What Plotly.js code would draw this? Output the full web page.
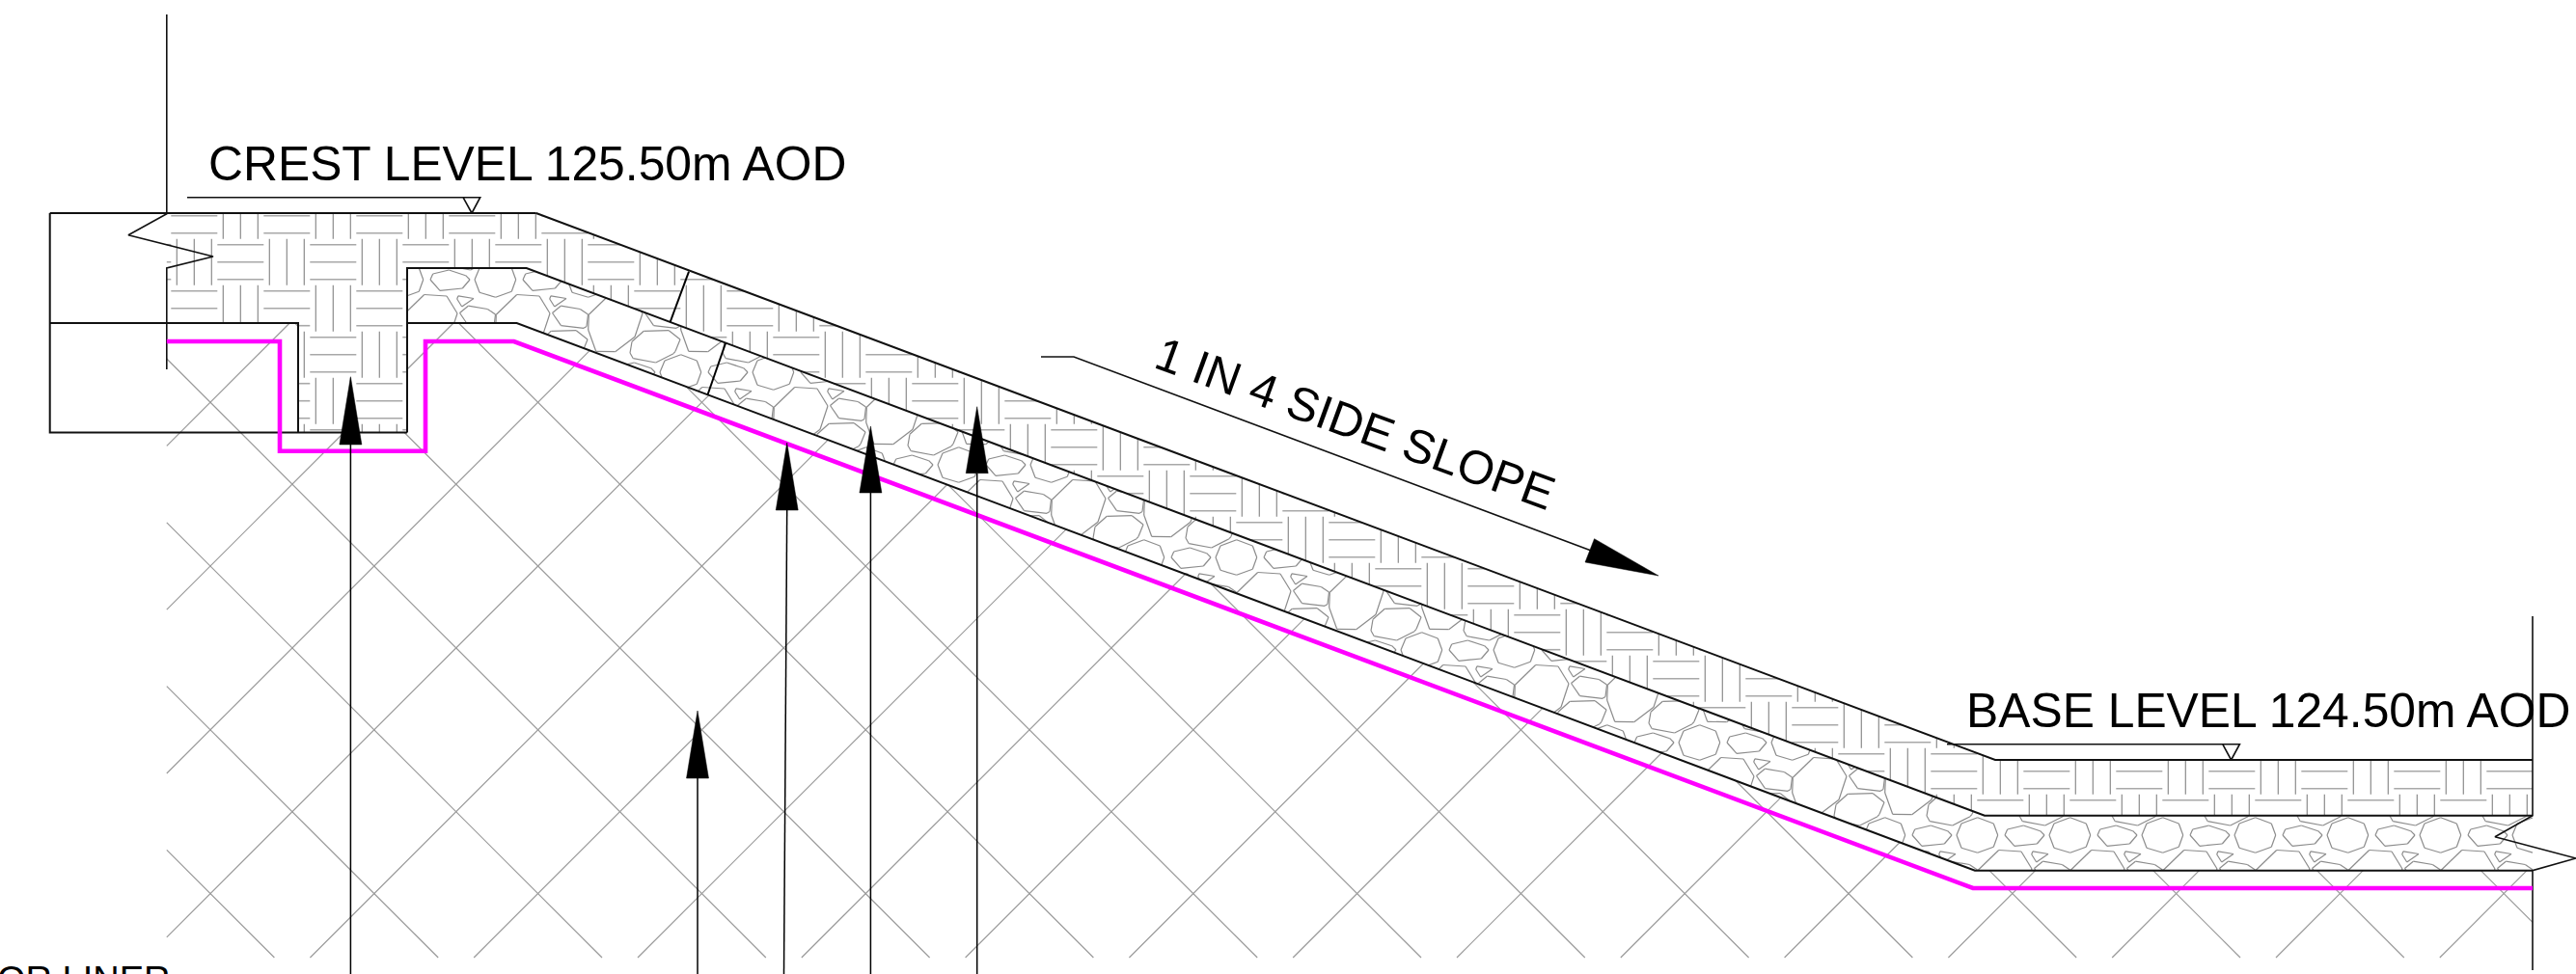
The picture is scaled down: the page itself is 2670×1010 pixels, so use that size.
<!DOCTYPE html>
<html>
<head>
<meta charset="utf-8">
<script src="https://cdn.plot.ly/plotly-3.0.1.min.js"></script>
<style>html,body{margin:0;padding:0;background:#fff;overflow:hidden}#chart{width:2670px;height:1010px}</style>
</head>
<body>
<div id="chart"></div>
<script>
// ---- cross-section outlines (x, y in drawing units) ----
const capOutlineX = [555.7, 2068, 2625];
const capOutlineY = [221, 788, 788];
const capTopX = [51.7, 555.7];
const capTopY = [221, 221];
const stoneTopX = [422, 422, 545.7, 2057, 2625];
const stoneTopY = [448.5, 278, 278, 845.7, 845.7];
const stoneBaseX = [422, 535.6, 2047, 2625];
const stoneBaseY = [335, 335, 902.7, 902.7];
const keyX = [51.7, 51.7, 422];
const keyY = [221, 448.5, 448.5];
const keyInnerX = [51.7, 309, 309];
const keyInnerY = [335, 335, 448.5];
const linerX = [172.8, 290, 290, 441, 441, 532.7, 2045, 2625];
const linerY = [354, 354, 467.7, 467.7, 354, 354, 921, 921];
const leftCutX = [172.8, 172.8, 133, 221, 172.8, 172.8];
const leftCutY = [15, 221.7, 243.7, 266, 278, 383];
const rightCutX = [2625, 2625, 2586, 2670, 2625, 2625];
const rightCutY = [639, 845.7, 867.7, 890, 902.7, 1006];
const jointAX = [714, 694.6];
const jointAY = [281.7, 334];
const jointBX = [752, 733.6];
const jointBY = [356, 409];

// level markers
const crestMarkX = [194, 497.7, 489, 480];
const crestMarkY = [204.7, 204.7, 221, 204.7];
const baseMarkX = [2018, 2321.4, 2312.6, 2303.7];
const baseMarkY = [771.7, 771.7, 788, 771.7];

// slope direction arrow
const slopeLeaderX = [1079, 1113, 1700];
const slopeLeaderY = [370, 370, 590];
const slopeHeadX = [1652.5, 1719, 1643, 1652.5];
const slopeHeadY = [558.7, 597, 583, 558.7];

// leader arrows: tip, head base, shaft foot
const arrowTipX = [363.4, 723, 815.7, 902.4, 1012.7];
const arrowTipY = [390.7, 737, 459, 442, 421.7];
const arrowBaseY = [461, 807, 529, 511, 490.7];
const arrowFootX = [363.4, 723, 812.5, 902.4, 1012.7];

// text
const crestLabel = "CREST LEVEL 125.50m AOD";
const baseLabel = "BASE LEVEL 124.50m AOD";
const slopeLabel = "1 IN 4 SIDE SLOPE";
const linerLabel = "OR LINER";

// regions filled with hatching
const groundRegionX = [172.8, 309, 309, 422, 422, 535.6, 2047, 2625, 2625, 172.8];
const groundRegionY = [335, 335, 448.5, 448.5, 335, 335, 902.7, 902.7, 993, 993];
const capRegionX = [172.8, 555.7, 2068, 2625, 2625, 2057, 545.7, 422, 422, 309, 309, 172.8];
const capRegionY = [221, 221, 788, 788, 845.7, 845.7, 278, 278, 448.5, 448.5, 335, 335];
const stoneRegionX = [422, 545.7, 2057, 2625, 2625, 2047, 535.6, 422];
const stoneRegionY = [278, 278, 845.7, 845.7, 902.7, 902.7, 335, 335];

// one repeat of the gravel hatch
const octagonStoneX = [33.7, 50.3, 54.7, 50.3, 33.7, 17, 12, 17];
const octagonStoneY = [-16.3, -10, 2, 14.3, 20.3, 15.3, 2, -10];
const flatStoneX = [64.7, 81.3, 98.7, 103, 95.3, 72, 62];
const flatStoneY = [-4, -8, -2.3, 2, 11, 13.3, 2];
const bigStoneX = [55.7, 79, 90, 82, 61.7, 41.7, 33.7, 34.3];
const bigStoneY = [17.5, 19, 37, 61.3, 76.7, 76.3, 54, 38.3];
const chipStoneX = [91, 107, 94.7, 89.7];
const chipStoneY = [18.8, 21.5, 30, 22];
const wideStoneX = [101.3, 121.3, 129.5, 128, 125, 101.5, 92.5];
const wideStoneY = [29.2, 32.5, 38, 50.5, 52.3, 49.7, 36.5];
const lowStoneX = [79, 91.3, 117.3, 129, 124, 122, 103.7, 80.3, 77];
const lowStoneY = [66.3, 55.3, 54.7, 64, 76.3, 78.7, 88, 83.7, 78];
const gravelStones = [[octagonStoneX, octagonStoneY], [flatStoneX, flatStoneY], [bigStoneX, bigStoneY],
                      [chipStoneX, chipStoneY], [wideStoneX, wideStoneY], [lowStoneX, lowStoneY]];

// ---- helpers: trim hatch lines to their region ----
function inside(px, py, X, Y) {
  let c = false;
  for (let i = 0, j = X.length - 1; i < X.length; j = i++) {
    if ((Y[i] > py) !== (Y[j] > py) && px < (X[j] - X[i]) * (py - Y[i]) / (Y[j] - Y[i]) + X[i]) c = !c;
  }
  return c;
}
function addClipped(out, x1, y1, x2, y2, X, Y) {
  const ts = [0, 1];
  const dx = x2 - x1, dy = y2 - y1;
  for (let i = 0, j = X.length - 1; i < X.length; j = i++) {
    const ex = X[i] - X[j], ey = Y[i] - Y[j];
    const d = dx * ey - dy * ex;
    if (Math.abs(d) < 1e-9) continue;
    const t = ((X[j] - x1) * ey - (Y[j] - y1) * ex) / d;
    const s = ((X[j] - x1) * dy - (Y[j] - y1) * dx) / d;
    if (t > 0 && t < 1 && s >= 0 && s <= 1) ts.push(t);
  }
  ts.sort((a, b) => a - b);
  for (let k = 0; k + 1 < ts.length; k++) {
    const m = (ts[k] + ts[k + 1]) / 2;
    if (ts[k + 1] - ts[k] > 1e-6 && inside(x1 + dx * m, y1 + dy * m, X, Y)) {
      out.x.push(x1 + dx * ts[k], x1 + dx * ts[k + 1], null);
      out.y.push(y1 + dy * ts[k], y1 + dy * ts[k + 1], null);
    }
  }
}

// diagonal ground hatch
const groundHatch = {x: [], y: []};
const diamondStep = 169.8, diamondA = -369, diamondB = 805;
for (let n = -6; n < 20; n++) {
  const a = diamondA + n * diamondStep;
  addClipped(groundHatch, 100, 100 - a, 2700, 2700 - a, groundRegionX, groundRegionY);
  const b = diamondB + n * diamondStep;
  addClipped(groundHatch, 100, b - 100, 2700, b - 2700, groundRegionX, groundRegionY);
}

// basket-weave capping hatch
const capH = {x: [], y: []}, capV = {x: [], y: []};
const cell = 48, weaveX = 81.3, weaveY = 7.7, weaveOffsets = [6, 24, 42];
for (let i = 0; i < 60; i++) {
  for (let j = 0; j < 24; j++) {
    const cx = weaveX + i * cell, cy = weaveY + j * cell;
    if ((i + j) % 2 === 0) {
      weaveOffsets.forEach(o => addClipped(capH, cx, cy + o, cx + cell, cy + o, capRegionX, capRegionY));
    } else {
      weaveOffsets.forEach(o => addClipped(capV, cx + o, cy, cx + o, cy + cell, capRegionX, capRegionY));
    }
  }
}

// gravel hatch
const gravel = {x: [], y: []};
for (let i = 2; i < 29; i++) {
  for (let j = 1; j < 11; j++) {
    gravelStones.forEach(([sx, sy]) => {
      for (let k = 0; k < sx.length; k++) {
        const m = (k + 1) % sx.length;
        addClipped(gravel, sx[k] + i * 96, sy[k] + j * 96, sx[m] + i * 96, sy[m] + j * 96, stoneRegionX, stoneRegionY);
      }
    });
  }
}

const line = (x, y, color, width) => ({x, y, mode: 'lines', type: 'scatter', hoverinfo: 'skip',
  line: {color, width, simplify: false}, connectgaps: false});
const solid = (x, y) => ({x, y, mode: 'lines', type: 'scatter', hoverinfo: 'skip', fill: 'toself',
  fillcolor: '#000', line: {color: '#000', width: 0.5}});

const traces = [
  line(groundHatch.x, groundHatch.y, '#9a9a9a', 1.2),
  line(capH.x, capH.y, '#a8a8a8', 1.6),
  line(capV.x, capV.y, '#8c8c8c', 1.2),
  line(gravel.x, gravel.y, '#8c8c8c', 1.2),
  line(leftCutX, leftCutY, '#111', 1.6),
  line(rightCutX, rightCutY, '#111', 1.6),
  line(capOutlineX, capOutlineY, '#111', 2),
  line(capTopX, capTopY, '#111', 2),
  line(stoneTopX, stoneTopY, '#111', 2),
  line(stoneBaseX, stoneBaseY, '#111', 2),
  line(keyX, keyY, '#111', 2),
  line(keyInnerX, keyInnerY, '#111', 2),
  line(jointAX, jointAY, '#000', 2),
  line(jointBX, jointBY, '#000', 2),
  line(linerX, linerY, '#ff00ff', 4.6),
  line(crestMarkX, crestMarkY, '#111', 1.6),
  line(baseMarkX, baseMarkY, '#111', 1.6),
  line(slopeLeaderX, slopeLeaderY, '#111', 1.6),
  solid(slopeHeadX, slopeHeadY)
];
arrowTipX.forEach((tx, i) => {
  traces.push(line([tx, arrowFootX[i]], [arrowBaseY[i], 1010], '#000', 1.5));
  traces.push(solid([tx - 11.5, tx, tx + 11.5, tx - 11.5], [arrowBaseY[i], arrowTipY[i], arrowBaseY[i], arrowBaseY[i]]));
});

const textFont = size => ({family: '"Liberation Sans", Arial, sans-serif', size, color: '#000'});
const note = (text, x, y, size, extra) => Object.assign({text, x, y, xref: 'x', yref: 'y', showarrow: false,
  font: textFont(size), borderpad: 0, borderwidth: 0, xanchor: 'center', yanchor: 'middle'}, extra || {});

const layout = {
  width: 2670, height: 1010,
  margin: {l: 0, r: 0, t: 0, b: 0, pad: 0},
  paper_bgcolor: '#fff', plot_bgcolor: '#fff',
  showlegend: false,
  xaxis: {range: [0, 2670], visible: false, fixedrange: true},
  yaxis: {range: [1010, 0], visible: false, fixedrange: true},
  annotations: [
    note(crestLabel, 546.5, 170, 49.8),
    note(baseLabel, 2351, 737, 49.8),
    note(slopeLabel, 1405, 439, 49, {textangle: 20}),
    note(linerLabel, 176, 994.5, 38, {xanchor: 'right', yanchor: 'top'})
  ]
};
Plotly.newPlot('chart', traces, layout, {staticPlot: true, displayModeBar: false});
</script>
</body>
</html>
